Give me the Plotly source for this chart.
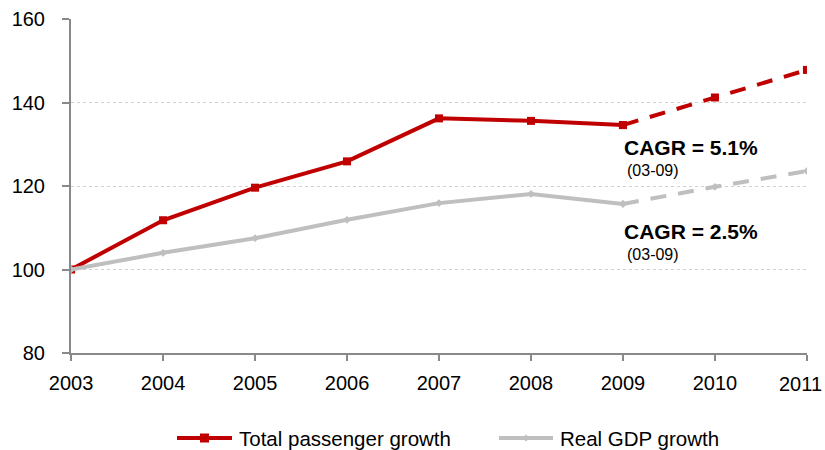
import plotly.graph_objects as go

# Indexed growth, 2003 = 100
years = [2003, 2004, 2005, 2006, 2007, 2008, 2009, 2010, 2011]
passenger = [100, 111.8, 119.6, 125.9, 136.2, 135.6, 134.6, 141.2, 147.8]
gdp = [100, 104.0, 107.5, 111.9, 115.9, 118.1, 115.7, 119.8, 123.6]
actual_end = 6  # index of 2009; later years are forecasts
series_names = ["Total passenger growth", "Real GDP growth"]

red = "#C00000"
grey = "#BFBFBF"
axis_grey = "#898989"
font_family = "Liberation Sans, Arial, sans-serif"
dash = "16px,12px"

W, H = 825, 450
M = dict(l=71, r=18, t=19, b=97)
plot_w = W - M["l"] - M["r"]
plot_h = H - M["t"] - M["b"]


def px_x(p):
    """pixel column -> paper x"""
    return (p - M["l"]) / plot_w


def px_y(p):
    """pixel row -> paper y"""
    return (H - M["b"] - p) / plot_h


fig = go.Figure()

# actual values (solid)
fig.add_trace(go.Scatter(
    x=years[:actual_end + 1], y=passenger[:actual_end + 1],
    mode="lines+markers", name=series_names[0],
    line=dict(color=red, width=4),
    marker=dict(symbol="square", size=8, color=red),
))
fig.add_trace(go.Scatter(
    x=years[:actual_end + 1], y=gdp[:actual_end + 1],
    mode="lines+markers", name=series_names[1],
    line=dict(color=grey, width=4),
    marker=dict(symbol="diamond", size=6, color=grey),
))
# forecast values (dashed)
fig.add_trace(go.Scatter(
    x=years[actual_end:], y=passenger[actual_end:],
    mode="lines+markers", showlegend=False,
    line=dict(color=red, width=4, dash=dash),
    marker=dict(symbol="square", size=8, color=red),
))
fig.add_trace(go.Scatter(
    x=years[actual_end:], y=gdp[actual_end:],
    mode="lines+markers", showlegend=False,
    line=dict(color=grey, width=4, dash=dash),
    marker=dict(symbol="diamond", size=6, color=grey),
))

# CAGR annotations
for y_big, y_small, txt in [(129.3, 123.8, "CAGR = 5.1%"), (109.0, 103.7, "CAGR = 2.5%")]:
    fig.add_annotation(x=2009, y=y_big, text="<b>" + txt + "</b>", showarrow=False,
                       xanchor="left", yanchor="middle", xshift=-1,
                       font=dict(size=21, color="black", family=font_family))
    fig.add_annotation(x=2009, y=y_small, text="(03-09)", showarrow=False,
                       xanchor="left", yanchor="middle", xshift=2,
                       font=dict(size=16, color="black", family=font_family))

# last category label is nudged inward so it stays on the page
tick_text = [str(y) for y in years]
tick_text[-1] = ""
fig.add_annotation(x=years[-1], xref="x", yref="paper", y=px_y(384),
                   text=str(years[-1]), showarrow=False, xanchor="right",
                   yanchor="middle", xshift=17,
                   font=dict(size=20, color="black", family=font_family))

# legend below the axis: line swatch with marker, then label
leg_y = px_y(438)
legend_items = [
    (series_names[0], red, "square", 177, 232, 237),
    (series_names[1], grey, "diamond", 499, 553, 558),
]
for name, color, sym, x0, x1, tx in legend_items:
    fig.add_shape(type="line", xref="paper", yref="paper",
                  x0=px_x(x0), x1=px_x(x1), y0=leg_y, y1=leg_y,
                  line=dict(color=color, width=4))
    cx = (x0 + x1) / 2
    if sym == "square":
        fig.add_shape(type="rect", xref="paper", yref="paper",
                      x0=px_x(cx - 4.5), x1=px_x(cx + 4.5),
                      y0=px_y(438 + 4.5), y1=px_y(438 - 4.5),
                      fillcolor=color, line=dict(width=0))
    else:
        d = 3.5
        path = "M {} {} L {} {} L {} {} L {} {} Z".format(
            px_x(cx - d), leg_y, px_x(cx), px_y(438 - d),
            px_x(cx + d), leg_y, px_x(cx), px_y(438 + d))
        fig.add_shape(type="path", xref="paper", yref="paper", path=path,
                      fillcolor=color, line=dict(width=0))
    fig.add_annotation(xref="paper", yref="paper", x=px_x(tx), y=leg_y,
                       text=name, showarrow=False, xanchor="left", yanchor="middle",
                       font=dict(size=20.5, color="black", family=font_family))

fig.update_layout(
    width=W, height=H,
    margin=M,
    plot_bgcolor="white", paper_bgcolor="white",
    font=dict(family=font_family, size=20, color="black"),
    showlegend=False,
    xaxis=dict(
        range=[2002.999, 2011.001], tickmode="array", tickvals=years,
        ticktext=tick_text,
        showline=True, linecolor=axis_grey, linewidth=2,
        ticks="outside", ticklen=6, tickwidth=2, tickcolor=axis_grey,
        showgrid=False, zeroline=False, fixedrange=True,
        ticklabelstandoff=5, ticklabeloverflow="allow", automargin=False,
    ),
    yaxis=dict(
        range=[80, 160], tickvals=[80, 100, 120, 140, 160],
        showline=True, linecolor=axis_grey, linewidth=2,
        ticks="outside", ticklen=7, tickwidth=2, tickcolor=axis_grey,
        showgrid=True, gridcolor="#D0D0D0", griddash="dot", gridwidth=1,
        zeroline=False, fixedrange=True, ticklabelstandoff=13, automargin=False,
    ),
)

fig.write_html("out.html")
